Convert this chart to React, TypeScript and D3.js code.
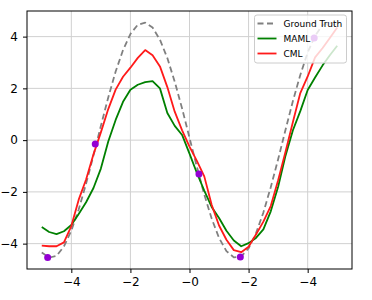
import React, { useEffect, useRef } from 'react';
import * as d3 from 'd3';

// sample positions of the curves
const xs = [
  -5, -4.75, -4.5, -4.25, -4, -3.75, -3.5, -3.25, -3, -2.75, -2.5, -2.25, -2, -1.75,
  -1.5, -1.25, -1, -0.75, -0.5, -0.25, 0, 0.25, 0.5, 0.75, 1, 1.25, 1.5, 1.75, 2,
  2.25, 2.5, 2.75, 3, 3.25, 3.5, 3.75, 4, 4.25, 4.5, 4.75, 5,
];

const groundTruth = [
  -4.34, -4.54, -4.47, -4.11, -3.5, -2.68, -1.68, -0.59, 0.55, 1.65, 2.65, 3.48, 4.1, 4.46,
  4.54, 4.35, 3.88, 3.17, 2.26, 1.22, 0.09, -1.03, -2.1, -3.03, -3.78, -4.29, -4.53, -4.49, -4.18,
  -3.6, -2.8, -1.82, -0.74, 0.4, 1.51, 2.52, 3.39, 4.03, 4.44, 4.55, 4.39,
];

const maml = [
  -3.36, -3.55, -3.63, -3.52, -3.28, -2.85, -2.4, -1.85, -1.1, -0.05, 0.78, 1.48, 1.95, 2.14,
  2.24, 2.28, 2.0, 1.05, 0.55, 0.2, -0.52, -1.27, -1.95, -2.58, -3.01, -3.5, -3.88, -4.1, -3.98,
  -3.78, -3.45, -2.75, -1.8, -0.6, 0.38, 1.12, 1.94, 2.42, 2.88, 3.28, 3.65,
];

const cml = [
  -4.08, -4.1, -4.1, -3.95, -3.32, -2.3, -1.52, -0.55, 0.3, 1.2, 1.95, 2.45, 2.8, 3.18,
  3.48, 3.28, 2.85, 2.05, 1.1, 0.38, -0.25, -0.8, -1.4, -2.5, -3.3, -3.85, -4.25, -4.33, -4.12,
  -3.65, -3.15, -2.55, -1.55, -0.45, 0.7, 1.82, 2.46, 3.2, 3.55, 3.95, 4.35,
];

// context points
const pointX = [-4.8, -3.19, 0.32, 1.72, 4.22];
const pointY = [-4.54, -0.15, -1.31, -4.52, 3.95];

const xTicks = [-4, -2, 0, 2, 4];
const xTickLabels = ['\u22124', '\u22122', '\u22120', '\u22122', '\u22124'];
const yTicks = [-4, -2, 0, 2, 4];
const yTickLabels = ['\u22124', '\u22122', '0', '2', '4'];

const seriesNames = ['Ground Truth', 'MAML', 'CML'];

export default function App() {
  const svgRef = useRef<SVGSVGElement>(null);

  useEffect(() => {
    if (!svgRef.current) return;

    const width = 372;
    const height = 300;
    const margin = { top: 11, right: 20, bottom: 31, left: 27 };
    const font = 'DejaVu Sans, sans-serif';

    const svg = d3.select(svgRef.current);
    svg.selectAll('*').remove();

    const x = d3.scaleLinear()
      .domain([-5.5, 5.5])
      .range([margin.left, width - margin.right]);

    const y = d3.scaleLinear()
      .domain([-4.98, 4.99])
      .range([height - margin.bottom, margin.top]);

    // grid
    const grid = svg.append('g');
    grid.selectAll('line.gx')
      .data(xTicks)
      .join('line')
      .attr('x1', d => x(d))
      .attr('x2', d => x(d))
      .attr('y1', margin.top)
      .attr('y2', height - margin.bottom)
      .attr('stroke', '#d0d0d0')
      .attr('stroke-width', 1);
    grid.selectAll('line.gy')
      .data(yTicks)
      .join('line')
      .attr('x1', margin.left)
      .attr('x2', width - margin.right)
      .attr('y1', d => y(d))
      .attr('y2', d => y(d))
      .attr('stroke', '#d0d0d0')
      .attr('stroke-width', 1);

    const line = d3.line<number>()
      .x((d, i) => x(xs[i]))
      .y(d => y(d));

    const series = [
      { values: groundTruth, color: '#808080', dash: '6,3.5' },
      { values: maml, color: '#008000', dash: null },
      { values: cml, color: '#ff1a1a', dash: null },
    ];

    svg.append('g')
      .selectAll('path')
      .data(series)
      .join('path')
      .attr('d', d => line(d.values))
      .attr('fill', 'none')
      .attr('stroke', d => d.color)
      .attr('stroke-width', 1.8)
      .attr('stroke-dasharray', d => d.dash)
      .attr('stroke-linejoin', 'round');

    // context points
    svg.append('g')
      .selectAll('circle')
      .data(pointX)
      .join('circle')
      .attr('cx', d => x(d))
      .attr('cy', (d, i) => y(pointY[i]))
      .attr('r', 3.5)
      .attr('fill', '#9400d3');

    // spines
    svg.append('rect')
      .attr('x', margin.left)
      .attr('y', margin.top)
      .attr('width', width - margin.left - margin.right)
      .attr('height', height - margin.top - margin.bottom)
      .attr('fill', 'none')
      .attr('stroke', '#000')
      .attr('stroke-width', 1);

    // x axis
    svg.append('g')
      .attr('transform', `translate(0,${height - margin.bottom})`)
      .call(d3.axisBottom(x).tickValues(xTicks).tickSize(4).tickPadding(4)
        .tickFormat((d, i) => xTickLabels[i]))
      .call(g => g.select('.domain').remove())
      .call(g => g.selectAll('line').attr('stroke', '#000'))
      .selectAll('text')
      .attr('font-family', font)
      .attr('font-size', '12px')
      .attr('fill', '#000');

    // y axis
    svg.append('g')
      .attr('transform', `translate(${margin.left},0)`)
      .call(d3.axisLeft(y).tickValues(yTicks).tickSize(4).tickPadding(5)
        .tickFormat((d, i) => yTickLabels[i]))
      .call(g => g.select('.domain').remove())
      .call(g => g.selectAll('line').attr('stroke', '#000'))
      .selectAll('text')
      .attr('font-family', font)
      .attr('font-size', '12px')
      .attr('fill', '#000');

    // legend
    const lg = svg.append('g').attr('transform', 'translate(254.5,15)');
    lg.append('rect')
      .attr('width', 92)
      .attr('height', 48)
      .attr('rx', 2.5)
      .attr('fill', '#fff')
      .attr('fill-opacity', 0.8)
      .attr('stroke', '#cccccc')
      .attr('stroke-width', 1);

    const items = lg.selectAll('g.item')
      .data(series)
      .join('g')
      .attr('transform', (d, i) => `translate(0,${8.5 + i * 15})`);
    items.append('line')
      .attr('x1', 3)
      .attr('x2', 22)
      .attr('stroke', d => d.color)
      .attr('stroke-width', 1.8)
      .attr('stroke-dasharray', d => d.dash);
    items.append('text')
      .attr('x', 29)
      .attr('dy', '0.35em')
      .attr('font-family', font)
      .attr('font-size', '9px')
      .attr('fill', '#000')
      .text((d, i) => seriesNames[i]);
  }, []);

  return (
    <svg
      ref={svgRef}
      width={372}
      height={300}
      viewBox="0 0 372 300"
      style={{ position: 'absolute', left: 0, top: 0, background: '#fff' }}
    />
  );
}
